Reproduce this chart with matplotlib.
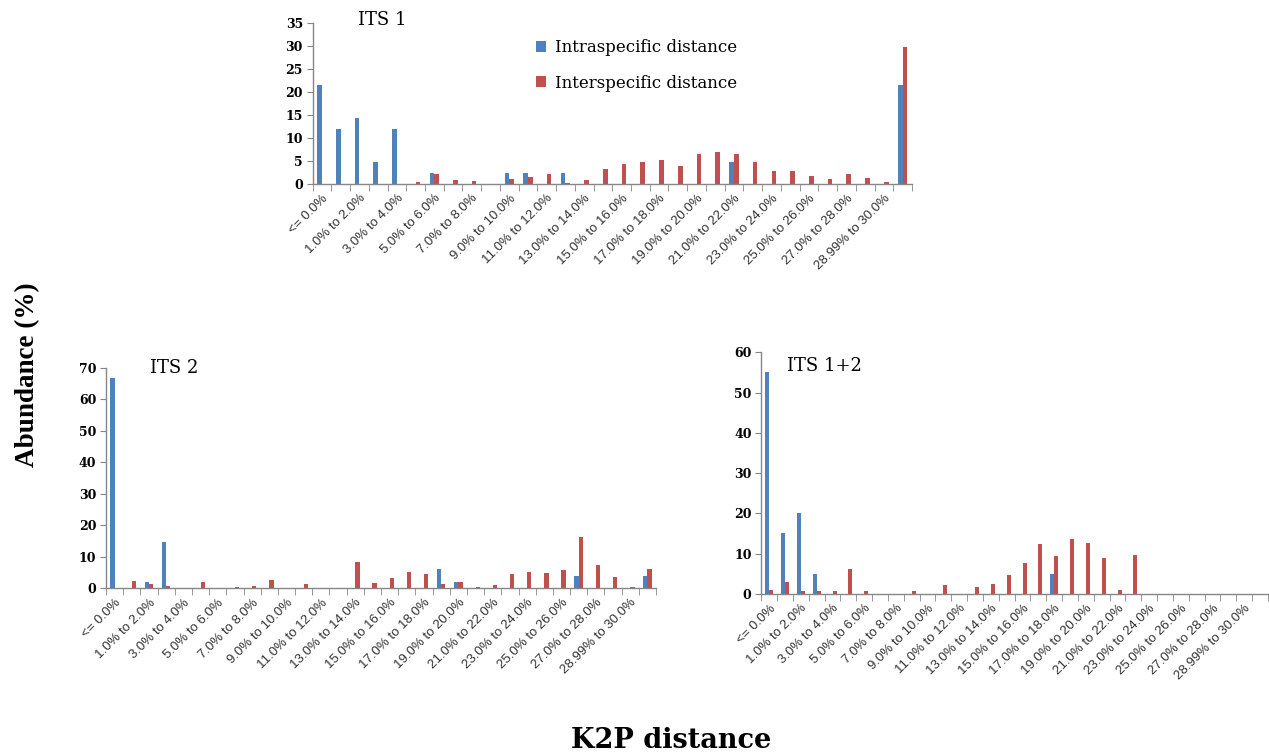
import matplotlib
matplotlib.use("Agg")
import matplotlib.pyplot as plt
import numpy as np

categories = ["<= 0.0%", "0.0% to 1.0%"] + [f"{k}.0% to {k+1}.0%" for k in range(1, 28)] + \
             ["28.0% to 28.99%", "28.99% to 30.0%", "> 30.0%"]

its1_intra = [21.4, 12.0, 14.4, 4.8, 12.0, 0, 2.45, 0, 0, 0, 2.45, 2.45, 0, 2.45, 0, 0,
              0, 0, 0, 0, 0, 0, 4.76, 0, 0, 0, 0, 0, 0, 0, 0, 21.4]
its1_inter = [0, 0, 0, 0, 0, 0.4, 2.1, 0.9, 0.65, 0, 1.1, 1.45, 2.1, 0.3, 0.9, 3.3,
              4.4, 4.76, 5.2, 3.8, 6.6, 6.85, 6.6, 4.76, 2.9, 2.9, 1.66, 1.0, 2.1, 1.3, 0.43, 29.8]

its2_intra = [66.8, 0, 1.9, 14.7, 0, 0, 0, 0, 0, 0, 0, 0, 0, 0, 0, 0,
              0, 0, 0, 6.0, 1.9, 0, 0, 0, 0, 0, 0, 3.9, 0, 0, 0, 3.9]
its2_inter = [0, 2.3, 1.3, 0.85, 0, 1.9, 0, 0.5, 0.85, 2.5, 0, 1.3, 0, 0, 8.2, 1.6,
              3.4, 5.2, 4.5, 1.3, 1.9, 0.5, 1.2, 4.5, 5.2, 4.9, 5.8, 16.3, 7.3, 3.7, 0.5, 6.2]

its12_intra = [55.0, 15.1, 20.0, 5.0, 0, 0, 0, 0, 0, 0, 0, 0, 0, 0, 0, 0,
               0, 0, 5.0, 0, 0, 0, 0, 0, 0, 0, 0, 0, 0, 0, 0, 0]
its12_inter = [1.0, 2.9, 0.75, 0.75, 0.75, 6.1, 0.75, 0, 0, 0.75, 0, 2.15, 0, 1.65, 2.5, 4.8,
               7.6, 12.4, 9.5, 13.7, 12.6, 9.0, 1.0, 9.7, 0, 0, 0, 0, 0, 0, 0, 0]

series_names = ["Intraspecific distance", "Interspecific distance"]
BLUE = "#4F81BD"
RED = "#C0504D"
AXC = "#868686"

W, H = 1269, 756
fig = plt.figure(figsize=(W / 100, H / 100), dpi=100)

def px_axes(x0, x1, y_top, y_zero):
    return fig.add_axes([x0 / W, 1 - y_zero / H, (x1 - x0) / W, (y_zero - y_top) / H])

def style(ax, ymax, ystep, title, tx, ty):
    n = len(categories)
    x = np.arange(n)
    ax.set_xlim(-0.5, n - 0.5)
    ax.set_ylim(0, ymax)
    for s in ["top", "right"]:
        ax.spines[s].set_visible(False)
    for s in ["left", "bottom"]:
        ax.spines[s].set_color(AXC)
        ax.spines[s].set_linewidth(1.0)
    ax.set_yticks(np.arange(0, ymax + 0.1, ystep))
    ax.set_yticklabels([f"{int(v)}" for v in np.arange(0, ymax + 0.1, ystep)],
                       fontfamily="DejaVu Serif", fontweight="bold", fontsize=9)
    ax.tick_params(axis="y", direction="out", length=4, color=AXC, pad=3)
    ax.set_xticks(x[::2])
    ax.set_xticklabels(categories[::2], rotation=45, ha="right", va="top",
                       rotation_mode="anchor", fontfamily="Liberation Sans",
                       fontsize=9.5, color="#333333")
    ax.tick_params(axis="x", which="major", length=0, pad=6)
    ax.set_xticks(np.arange(-0.5, n, 1.0), minor=True)
    ax.tick_params(axis="x", which="minor", direction="out", length=5, color=AXC)
    ax.text(tx, ty, title, transform=ax.transAxes, fontfamily="DejaVu Serif",
            fontsize=13, ha="left", va="center")

def draw(ax, intra, inter):
    x = np.arange(len(categories))
    bw = 0.25
    b1 = ax.bar(x - bw / 2, intra, width=bw, color=BLUE, label=series_names[0])
    b2 = ax.bar(x + bw / 2, inter, width=bw, color=RED, label=series_names[1])
    return b1, b2

ax1 = px_axes(312.6, 912, 22.7, 184)
b1, b2 = draw(ax1, its1_intra, its1_inter)
style(ax1, 35, 5, "ITS 1", 0.075, 1.015)
ax1.legend(handles=[b1, b2], loc="upper left", bbox_to_anchor=(0.348, 0.99),
           frameon=False, prop={"family": "DejaVu Serif", "size": 12},
           handlelength=0.6, handleheight=0.6, handletextpad=0.5, labelspacing=1.1)

ax2 = px_axes(106, 656, 367.7, 588.3)
draw(ax2, its2_intra, its2_inter)
style(ax2, 70, 10, "ITS 2", 0.08, 1.0)

ax3 = px_axes(761.3, 1268, 352.3, 594)
draw(ax3, its12_intra, its12_inter)
style(ax3, 60, 10, "ITS 1+2", 0.05, 0.945)

fig.text(28 / W, 1 - 375 / H, "Abundance (%)", rotation=90, ha="center", va="center",
         fontfamily="Liberation Serif", fontweight="bold", fontsize=19.5)
fig.text(671 / W, 1 - 740 / H, "K2P distance", ha="center", va="center",
         fontfamily="DejaVu Serif", fontweight="bold", fontsize=19.5)

fig.savefig("out.png", dpi=100)
